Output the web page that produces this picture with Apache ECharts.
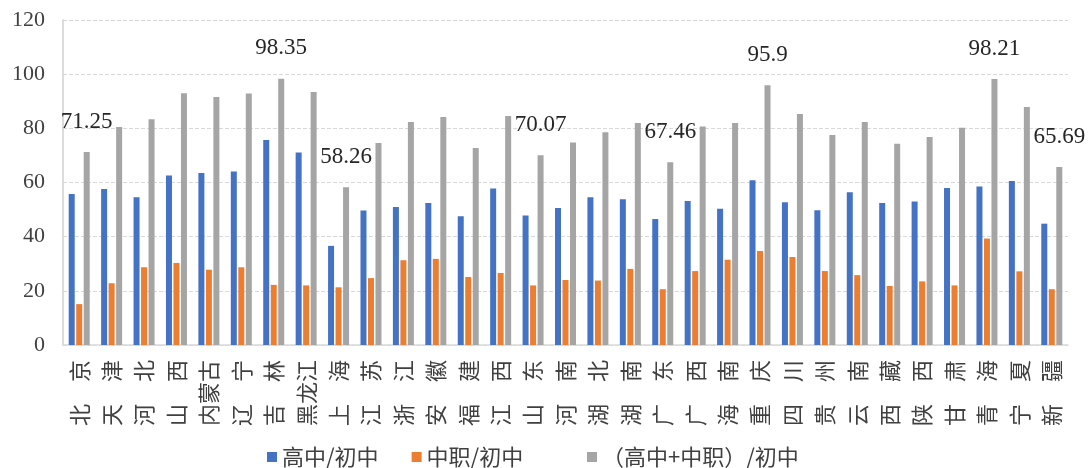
<!DOCTYPE html>
<html>
<head>
<meta charset="utf-8">
<script src="https://cdn.jsdelivr.net/npm/echarts@6/dist/echarts.min.js"></script>
<style>
  html, body { margin: 0; padding: 0; background: #fff; }
  #chart_1 { width: 1091px; height: 468px; }
</style>
</head>
<body>
<div id="chart_1"></div>
<script>
// 省份（两字名称中间加全角空格）
var cities = ['北　京','天　津','河　北','山　西','内蒙古','辽　宁','吉　林','黑龙江','上　海','江　苏','浙　江','安　徽','福　建','江　西','山　东','河　南','湖　北','湖　南','广　东','广　西','海　南','重　庆','四　川','贵　州','云　南','西　藏','陕　西','甘　肃','青　海','宁　夏','新　疆'];
var seriesNames = ['高中/初中', '中职/初中', '（高中+中职）/初中'];
var gaozhong = [55.8,57.6,54.6,62.6,63.5,64.1,75.7,71.1,36.6,49.7,51.0,52.4,47.5,57.8,47.8,50.6,54.6,53.8,46.5,53.2,50.3,60.8,52.7,49.8,56.4,52.4,53.0,58.0,58.5,60.6,44.8];
var zhongzhi = [15.1,22.8,28.7,30.3,27.8,28.7,22.2,22.0,21.3,24.7,31.3,31.8,25.1,26.6,22.0,24.0,23.8,28.1,20.6,27.3,31.5,34.7,32.5,27.3,25.8,21.8,23.5,22.0,39.3,27.2,20.6];
var heji = [71.25,80.5,83.4,93.0,91.6,92.9,98.35,93.4,58.26,74.6,82.3,84.2,72.7,84.6,70.07,74.8,78.6,82.0,67.46,80.7,82.0,95.9,85.3,77.5,82.3,74.3,76.8,80.2,98.21,87.9,65.69];
var labeledIdx = [0,6,8,14,18,21,28,30]; // 标了数值的灰柱
var yTicks = [0, 120, 20]; // min, max, interval

var myChart1 = echarts.init(document.getElementById('chart_1'));

var hejiData = heji.map(function (v, i) {
    if (labeledIdx.indexOf(i) >= 0) {
        return { value: v, label: { show: true } };
    }
    return v;
});

var legendText = {
    fontFamily: 'Noto Sans CJK SC',
    fontSize: 22,
    color: '#404040'
};

var option1 = {
    animation: false,
    grid: {
        left: 63,
        right: 23,
        top: 20,
        bottom: 123
    },
    legend: [
        {
            top: 441,
            left: 262,
            icon: 'rect',
            itemWidth: 10,
            itemHeight: 10,
            itemGap: 33,
            textStyle: legendText,
            data: [seriesNames[0], seriesNames[1]]
        },
        {
            top: 441,
            left: 582,
            icon: 'rect',
            itemWidth: 10,
            itemHeight: 10,
            textStyle: legendText,
            data: [seriesNames[2]]
        }
    ],
    xAxis: {
        type: 'category',
        data: cities,
        axisTick: { show: false },
        axisLine: { lineStyle: { color: '#d9d9d9', width: 1.5 } },
        axisLabel: {
            interval: 0,
            rotate: 90,
            margin: 15,
            fontFamily: 'Noto Sans CJK SC',
            fontSize: 22,
            color: '#404040'
        }
    },
    yAxis: {
        type: 'value',
        min: yTicks[0],
        max: yTicks[1],
        interval: yTicks[2],
        axisLine: { show: true, lineStyle: { color: '#d0d0d0', width: 1.5 } },
        axisTick: { show: false },
        splitLine: { lineStyle: { color: '#d9d9d9', type: 'dashed' } },
        axisLabel: {
            margin: 18,
            fontFamily: 'Liberation Serif',
            fontSize: 22,
            color: '#404040'
        }
    },
    series: [
        {
            name: seriesNames[0],
            type: 'bar',
            barWidth: 6,
            barGap: '25%',
            itemStyle: { color: '#4472c4' },
            data: gaozhong
        },
        {
            name: seriesNames[1],
            type: 'bar',
            barWidth: 6,
            barGap: '25%',
            itemStyle: { color: '#ed7d31' },
            data: zhongzhi
        },
        {
            name: seriesNames[2],
            type: 'bar',
            barWidth: 6,
            barGap: '25%',
            itemStyle: { color: '#a5a5a5' },
            label: {
                show: false,
                position: 'top',
                distance: 19,
                fontFamily: 'Liberation Serif',
                fontSize: 23,
                color: '#262626',
                formatter: function (p) { return String(p.value); }
            },
            data: hejiData
        }
    ]
};
myChart1.setOption(option1);
</script>
</body>
</html>
